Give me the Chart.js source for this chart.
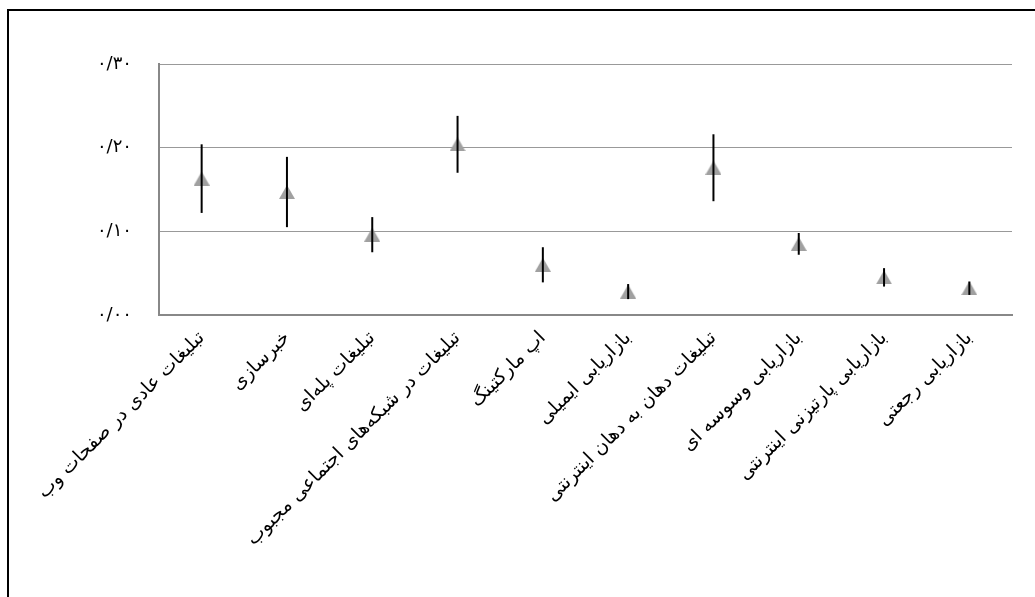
<!DOCTYPE html>
<html>
<head>
<meta charset="utf-8">
<script src="https://cdn.jsdelivr.net/npm/chart.js@4.4.1/dist/chart.umd.min.js"></script>
<style>
    body { margin: 0; background: #fff; overflow: hidden; }
    #frame { position: absolute; left: 7px; top: 9px; width: 1100px; height: 700px; border-left: 2px solid #000; border-top: 2px solid #000; }
    #wrap { position: absolute; left: 0; top: 0; width: 1035px; height: 597px; }
</style>
</head>
<body>
<div id="frame"></div>
<div id="wrap"><canvas id="myChart"></canvas></div>
<script>
// Data
var categories = [
    'تبلیغات عادی در صفحات وب',
    'خبرسازی',
    'تبلیغات پله‌ای',
    'تبلیغات در شبکه‌های اجتماعی مجبوب',
    'اپ مارکتینگ',
    'بازاریابی ایمیلی',
    'تبلیغات دهان به دهان اینترنتی',
    'بازاریابی وسوسه ای',
    'بازاریابی پارتیزنی اینترنتی',
    'بازاریابی رجعتی'
];
var means = [0.163, 0.147, 0.096, 0.204, 0.060, 0.028, 0.176, 0.085, 0.045, 0.032];
var errors = [0.041, 0.042, 0.021, 0.034, 0.021, 0.009, 0.040, 0.013, 0.011, 0.008];
var yTicks = [0, 0.1, 0.2, 0.3];
var yTickLabels = ['۰/۰۰', '۰/۱۰', '۰/۲۰', '۰/۳۰'];

// triangle marker, centred on its box like the original
var tri = document.createElement('canvas');
tri.width = 16;
tri.height = 14;
var tctx = tri.getContext('2d');
tctx.fillStyle = '#a0a0a0';
tctx.beginPath();
tctx.moveTo(8, 0);
tctx.lineTo(16, 14);
tctx.lineTo(0, 14);
tctx.closePath();
tctx.fill();

// Error bars
var errorBars = {
    id: 'errorBars',
    afterDatasetsDraw: function (chart)
    {
        var ctx = chart.ctx;
        var x = chart.scales.x;
        var y = chart.scales.y;
        ctx.save();
        ctx.strokeStyle = '#000';
        ctx.lineWidth = 2;
        for (var i = 0; i < means.length; i++)
        {
            var px = x.getPixelForValue(i);
            ctx.beginPath();
            ctx.moveTo(px, y.getPixelForValue(means[i] + errors[i]));
            ctx.lineTo(px, y.getPixelForValue(means[i] - errors[i]));
            ctx.stroke();
        }
        ctx.restore();
    }
};

var ctx = document.getElementById('myChart').getContext('2d');
var myChart = new Chart(ctx,
{
    type: 'line',
    data:
    {
        labels: categories,
        datasets: [
        {
            data: means,
            showLine: false,
            pointStyle: tri,
            pointRadius: 8,
            pointHoverRadius: 8
        }]
    },
    options:
    {
        responsive: true,
        maintainAspectRatio: false,
        animation: false,
        layout:
        {
            padding: { top: 64, right: 23, left: 0, bottom: 0 }
        },
        plugins:
        {
            legend: { display: false },
            tooltip: { enabled: false }
        },
        scales:
        {
            x:
            {
                offset: true,
                grid: { display: false, drawTicks: false },
                border: { color: '#888', width: 2 },
                afterFit: function (scale) { scale.height = 282; },
                ticks:
                {
                    minRotation: 45,
                    maxRotation: 45,
                    autoSkip: false,
                    padding: 12,
                    color: '#000',
                    font: { family: 'DejaVu Sans', size: 19 }
                }
            },
            y:
            {
                min: 0,
                max: 0.3,
                afterFit: function (scale) { scale.width = 159; },
                afterBuildTicks: function (scale)
                {
                    scale.ticks = yTicks.map(function (v) { return { value: v }; });
                },
                grid: { color: '#999', lineWidth: 1, drawTicks: false },
                border: { color: '#888', width: 2 },
                ticks:
                {
                    padding: 27,
                    color: '#000',
                    font: { family: 'DejaVu Sans', size: 18 },
                    callback: function (value, index) { return yTickLabels[index]; }
                }
            }
        }
    },
    plugins: [errorBars]
});
</script>
</body>
</html>
